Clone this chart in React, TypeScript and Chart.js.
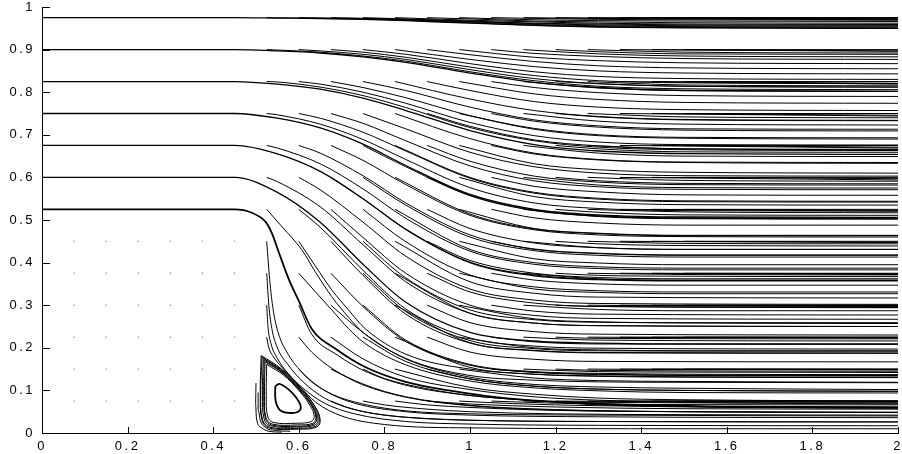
import React, { useEffect, useRef } from "react";
import { Chart, registerables } from "chart.js";

Chart.register(...registerables);

// ---- axes ----
const X_TICKS = [0, 0.2, 0.4, 0.6, 0.8, 1, 1.2, 1.4, 1.6, 1.8, 2];
const X_TICK_LABELS = ["0", "0.2", "0.4", "0.6", "0.8", "1", "1.2", "1.4", "1.6", "1.8", "2"];
const Y_TICKS = [0, 0.1, 0.2, 0.3, 0.4, 0.5, 0.6, 0.7, 0.8, 0.9, 1];
const Y_TICK_LABELS = ["0", "0.1", "0.2", "0.3", "0.4", "0.5", "0.6", "0.7", "0.8", "0.9", "1"];

// ---- grid points inside the step (zero velocity) ----
const STEP_GRID_X = [0.075, 0.15, 0.225, 0.3, 0.375, 0.45];
const STEP_GRID_Y = [0.075, 0.15, 0.225, 0.3, 0.375, 0.45];

// ---- streamlines, each as x,y pairs ----
const INLET_LINES = [
  [0, 0.975, 0.45, 0.975, 0.55, 0.974, 0.65, 0.973, 0.75, 0.971, 0.85, 0.968, 1.0, 0.962, 1.15, 0.957, 1.3, 0.953, 1.5, 0.951, 2, 0.95],
  [0, 0.9, 0.45, 0.9, 0.55, 0.897, 0.65, 0.892, 0.75, 0.883, 0.85, 0.87, 1.0, 0.845, 1.15, 0.823, 1.3, 0.811, 1.5, 0.804, 2, 0.802],
  [0, 0.825, 0.45, 0.825, 0.55, 0.819, 0.65, 0.807, 0.75, 0.786, 0.85, 0.757, 1.0, 0.71, 1.15, 0.677, 1.3, 0.662, 1.5, 0.656, 2, 0.654],
  [0, 0.75, 0.45, 0.75, 0.55, 0.739, 0.65, 0.716, 0.75, 0.678, 0.85, 0.628, 1.0, 0.56, 1.15, 0.525, 1.3, 0.512, 1.5, 0.507, 2, 0.506],
  [0, 0.675, 0.45, 0.675, 0.55, 0.655, 0.65, 0.614, 0.75, 0.55, 0.85, 0.478, 1.0, 0.4, 1.15, 0.369, 1.3, 0.36, 1.5, 0.357, 2, 0.357],
  [0, 0.6, 0.45, 0.6, 0.55, 0.565, 0.65, 0.495, 0.75, 0.396, 0.85, 0.307, 1.0, 0.236, 1.15, 0.216, 1.3, 0.211, 1.5, 0.209, 2, 0.209],
  [0, 0.525, 0.45, 0.525, 0.49, 0.517, 0.523, 0.495, 0.537, 0.469, 0.553, 0.425, 0.577, 0.36, 0.6, 0.31, 0.63, 0.245, 0.69, 0.195, 0.755, 0.155, 0.85, 0.12, 0.95, 0.1, 1.1, 0.08, 1.3, 0.069, 1.6, 0.062, 2, 0.06],
];

const COL_0525 = [
  [0.525, 0.525, 0.561, 0.484, 0.607, 0.43, 0.64, 0.376, 0.677, 0.32, 0.716, 0.272, 0.75, 0.236, 0.85, 0.175, 1.0, 0.135, 1.15, 0.124, 1.3, 0.12, 1.5, 0.119, 2, 0.118],
  [0.525, 0.6, 0.55, 0.59, 0.65, 0.531, 0.75, 0.442, 0.85, 0.355, 1.0, 0.281, 1.15, 0.258, 1.3, 0.252, 2, 0.25],
  [0.525, 0.675, 0.55, 0.669, 0.65, 0.632, 0.75, 0.573, 0.85, 0.504, 1.0, 0.427, 1.15, 0.396, 1.3, 0.386, 1.5, 0.383, 2, 0.383],
  [0.525, 0.75, 0.55, 0.747, 0.65, 0.725, 0.75, 0.689, 0.85, 0.642, 1.0, 0.576, 1.15, 0.54, 1.3, 0.527, 1.5, 0.522, 2, 0.521],
  [0.525, 0.825, 0.55, 0.824, 0.65, 0.812, 0.75, 0.792, 0.85, 0.764, 1.0, 0.717, 1.15, 0.686, 1.3, 0.671, 1.5, 0.665, 2, 0.663],
  [0.525, 0.9, 0.55, 0.899, 0.65, 0.894, 0.75, 0.885, 0.85, 0.873, 1.0, 0.848, 1.15, 0.827, 1.3, 0.814, 1.5, 0.808, 2, 0.806],
  [0.525, 0.975, 0.65, 0.973, 0.75, 0.972, 0.85, 0.969, 1.0, 0.963, 1.15, 0.957, 1.3, 0.954, 1.5, 0.952, 2, 0.951],
];

const COL_0600 = [
  [0.6, 0.375, 0.64, 0.33, 0.677, 0.289, 0.716, 0.245, 0.755, 0.21, 0.85, 0.16, 1.0, 0.122, 1.15, 0.106, 1.3, 0.099, 1.5, 0.095, 2, 0.094],
  [0.6, 0.45, 0.64, 0.39, 0.677, 0.336, 0.716, 0.289, 0.755, 0.245, 0.85, 0.185, 1.0, 0.15, 1.15, 0.138, 1.3, 0.134, 1.5, 0.132, 2, 0.131],
  [0.6, 0.525, 0.65, 0.483, 0.75, 0.382, 0.85, 0.291, 1.0, 0.223, 1.15, 0.204, 1.3, 0.199, 2, 0.197],
  [0.6, 0.6, 0.65, 0.571, 0.75, 0.495, 0.85, 0.415, 1.0, 0.338, 1.15, 0.312, 1.3, 0.304, 2, 0.302],
  [0.6, 0.675, 0.65, 0.657, 0.75, 0.604, 0.85, 0.54, 1.0, 0.465, 1.15, 0.432, 1.3, 0.422, 1.5, 0.418, 2, 0.418],
  [0.6, 0.75, 0.65, 0.739, 0.75, 0.706, 0.85, 0.662, 1.0, 0.598, 1.15, 0.563, 1.3, 0.549, 1.5, 0.543, 2, 0.542],
  [0.6, 0.825, 0.65, 0.819, 0.75, 0.8, 0.85, 0.774, 1.0, 0.729, 1.15, 0.698, 1.3, 0.683, 1.5, 0.677, 2, 0.676],
  [0.6, 0.9, 0.65, 0.897, 0.75, 0.889, 0.85, 0.877, 1.0, 0.853, 1.15, 0.832, 1.3, 0.82, 1.5, 0.814, 2, 0.812],
  [0.6, 0.975, 0.75, 0.973, 0.85, 0.97, 1.0, 0.965, 1.15, 0.959, 1.3, 0.956, 1.5, 0.954, 2, 0.953],
];

const COL_0675 = [
  [0.675, 0.225, 0.75, 0.174, 0.85, 0.131, 1.0, 0.102, 1.15, 0.085, 1.3, 0.077, 1.5, 0.072, 2, 0.068],
  [0.675, 0.3, 0.75, 0.236, 0.85, 0.174, 1.0, 0.131, 1.15, 0.114, 1.3, 0.108, 1.5, 0.105, 2, 0.102],
  [0.675, 0.375, 0.75, 0.297, 0.85, 0.215, 1.0, 0.159, 1.15, 0.143, 1.3, 0.138, 1.5, 0.136, 2, 0.135],
  [0.675, 0.45, 0.75, 0.37, 0.85, 0.279, 1.0, 0.211, 1.15, 0.193, 1.3, 0.188, 2, 0.187],
  [0.675, 0.525, 0.75, 0.459, 0.85, 0.375, 1.0, 0.3, 1.15, 0.276, 1.3, 0.269, 2, 0.267],
  [0.675, 0.6, 0.75, 0.55, 0.85, 0.478, 1.0, 0.401, 1.15, 0.371, 1.3, 0.361, 1.5, 0.358, 2, 0.358],
  [0.675, 0.675, 0.75, 0.64, 0.85, 0.583, 1.0, 0.511, 1.15, 0.477, 1.3, 0.465, 1.5, 0.461, 2, 0.46],
  [0.675, 0.75, 0.75, 0.727, 0.85, 0.686, 1.0, 0.627, 1.15, 0.592, 1.3, 0.578, 1.5, 0.572, 2, 0.571],
  [0.675, 0.825, 0.75, 0.811, 0.85, 0.787, 1.0, 0.745, 1.15, 0.715, 1.3, 0.7, 1.5, 0.694, 2, 0.693],
  [0.675, 0.9, 0.75, 0.894, 0.85, 0.882, 1.0, 0.859, 1.15, 0.839, 1.3, 0.827, 1.5, 0.822, 2, 0.82],
  [0.675, 0.975, 0.85, 0.971, 1.0, 0.966, 1.15, 0.961, 1.3, 0.958, 1.5, 0.956, 2, 0.955],
];

const COL_0750 = [
  [0.75, 0.225, 0.85, 0.168, 1.0, 0.127, 1.15, 0.11, 1.3, 0.103, 1.5, 0.1, 2, 0.098],
  [0.75, 0.3, 0.85, 0.218, 1.0, 0.161, 1.15, 0.144, 1.3, 0.14, 1.5, 0.138, 2, 0.137],
  [0.75, 0.375, 0.85, 0.285, 1.0, 0.217, 1.15, 0.198, 1.3, 0.193, 2, 0.192],
  [0.75, 0.45, 0.85, 0.364, 1.0, 0.289, 1.15, 0.266, 1.3, 0.26, 2, 0.257],
  [0.75, 0.525, 0.85, 0.449, 1.0, 0.371, 1.15, 0.343, 1.3, 0.334, 1.5, 0.331, 2, 0.331],
  [0.75, 0.6, 0.85, 0.535, 1.0, 0.46, 1.15, 0.428, 1.3, 0.417, 1.5, 0.413, 2, 0.413],
  [0.75, 0.675, 0.85, 0.625, 1.0, 0.557, 1.15, 0.522, 1.3, 0.509, 1.5, 0.504, 2, 0.503],
  [0.75, 0.75, 0.85, 0.714, 1.0, 0.659, 1.15, 0.625, 1.3, 0.61, 1.5, 0.604, 2, 0.603],
  [0.75, 0.825, 0.85, 0.804, 1.0, 0.765, 1.15, 0.735, 1.3, 0.721, 1.5, 0.714, 2, 0.713],
  [0.75, 0.9, 0.85, 0.889, 1.0, 0.867, 1.15, 0.848, 1.3, 0.837, 1.5, 0.832, 2, 0.83],
  [0.75, 0.975, 0.85, 0.972, 1.0, 0.967, 1.15, 0.962, 1.3, 0.96, 1.5, 0.958, 2, 0.957],
];

const COL_0825 = [
  [0.825, 0.15, 1.0, 0.107, 1.15, 0.091, 1.3, 0.082, 1.5, 0.078, 2, 0.075],
  [0.825, 0.225, 1.0, 0.154, 1.15, 0.138, 1.3, 0.133, 1.5, 0.131, 2, 0.13],
  [0.825, 0.3, 1.0, 0.212, 1.15, 0.194, 1.3, 0.189, 2, 0.188],
  [0.825, 0.375, 1.0, 0.281, 1.15, 0.258, 1.3, 0.252, 2, 0.25],
  [0.825, 0.45, 1.0, 0.355, 1.15, 0.328, 1.3, 0.319, 2, 0.317],
  [0.825, 0.525, 1.0, 0.431, 1.15, 0.4, 1.3, 0.39, 1.5, 0.387, 2, 0.387],
  [0.825, 0.6, 1.0, 0.514, 1.15, 0.479, 1.3, 0.468, 1.5, 0.463, 2, 0.463],
  [0.825, 0.675, 1.0, 0.6, 1.15, 0.565, 1.3, 0.551, 1.5, 0.545, 2, 0.544],
  [0.825, 0.75, 1.0, 0.691, 1.15, 0.657, 1.3, 0.642, 1.5, 0.636, 2, 0.635],
  [0.825, 0.825, 1.0, 0.784, 1.15, 0.757, 1.3, 0.743, 1.5, 0.736, 2, 0.734],
  [0.825, 0.9, 1.0, 0.877, 1.15, 0.86, 1.3, 0.85, 1.5, 0.845, 2, 0.843],
  [0.825, 0.975, 1.0, 0.969, 1.15, 0.965, 1.3, 0.962, 1.5, 0.96, 2, 0.959],
];

const COL_0900 = [
  [0.9, 0.075, 1.0, 0.068, 1.2, 0.061, 1.5, 0.057, 2, 0.056],
  [0.9, 0.15, 1.0, 0.127, 1.15, 0.11, 1.3, 0.103, 1.5, 0.1, 2, 0.098],
  [0.9, 0.225, 1.0, 0.19, 1.15, 0.173, 1.3, 0.168, 2, 0.167],
  [0.9, 0.3, 1.0, 0.259, 1.15, 0.238, 1.3, 0.232, 2, 0.23],
  [0.9, 0.375, 1.0, 0.331, 1.15, 0.305, 1.3, 0.297, 2, 0.295],
  [0.9, 0.45, 1.0, 0.405, 1.15, 0.375, 1.3, 0.365, 1.5, 0.362, 2, 0.362],
  [0.9, 0.525, 1.0, 0.48, 1.15, 0.446, 1.3, 0.435, 1.5, 0.431, 2, 0.431],
  [0.9, 0.6, 1.0, 0.558, 1.15, 0.523, 1.3, 0.51, 1.5, 0.505, 2, 0.504],
  [0.9, 0.675, 1.0, 0.638, 1.15, 0.603, 1.3, 0.589, 1.5, 0.583, 2, 0.582],
  [0.9, 0.75, 1.0, 0.72, 1.15, 0.688, 1.3, 0.674, 1.5, 0.667, 2, 0.666],
  [0.9, 0.825, 1.0, 0.804, 1.15, 0.778, 1.3, 0.765, 1.5, 0.759, 2, 0.757],
  [0.9, 0.9, 1.0, 0.888, 1.15, 0.872, 1.3, 0.862, 1.5, 0.857, 2, 0.855],
  [0.9, 0.975, 1.0, 0.972, 1.15, 0.967, 1.3, 0.965, 1.5, 0.963, 2, 0.962],
];

const COL_0975 = [
  [0.975, 0.075, 1.1, 0.069, 1.3, 0.064, 1.6, 0.062, 2, 0.061],
  [0.975, 0.15, 1.15, 0.129, 1.3, 0.123, 1.5, 0.121, 2, 0.119],
  [0.975, 0.225, 1.15, 0.2, 1.3, 0.195, 1.5, 0.193, 2, 0.193],
  [0.975, 0.3, 1.15, 0.268, 1.3, 0.261, 1.5, 0.259, 2, 0.259],
  [0.975, 0.375, 1.15, 0.338, 1.3, 0.33, 1.5, 0.327, 2, 0.327],
  [0.975, 0.45, 1.15, 0.409, 1.3, 0.399, 1.5, 0.395, 2, 0.395],
  [0.975, 0.525, 1.15, 0.48, 1.3, 0.469, 1.5, 0.464, 2, 0.464],
  [0.975, 0.6, 1.15, 0.555, 1.3, 0.542, 1.5, 0.536, 2, 0.535],
  [0.975, 0.675, 1.15, 0.632, 1.3, 0.618, 1.5, 0.612, 2, 0.61],
  [0.975, 0.75, 1.15, 0.713, 1.3, 0.698, 1.5, 0.692, 2, 0.69],
  [0.975, 0.825, 1.15, 0.796, 1.3, 0.783, 1.5, 0.776, 2, 0.774],
  [0.975, 0.9, 1.15, 0.882, 1.3, 0.874, 1.5, 0.869, 2, 0.867],
  [0.975, 0.975, 1.15, 0.97, 1.3, 0.968, 1.5, 0.967, 2, 0.966],
];

const COL_1050 = [
  [1.05, 0.075, 1.2, 0.07, 1.4, 0.067, 2, 0.066],
  [1.05, 0.15, 1.15, 0.142, 1.3, 0.137, 1.5, 0.135, 2, 0.134],
  [1.05, 0.225, 1.15, 0.214, 1.3, 0.209, 2, 0.208],
  [1.05, 0.3, 1.15, 0.286, 1.3, 0.279, 2, 0.277],
  [1.05, 0.375, 1.15, 0.359, 1.3, 0.35, 1.5, 0.347, 2, 0.347],
  [1.05, 0.45, 1.15, 0.431, 1.3, 0.421, 1.5, 0.417, 2, 0.417],
  [1.05, 0.525, 1.15, 0.505, 1.3, 0.493, 1.5, 0.488, 2, 0.488],
  [1.05, 0.6, 1.15, 0.579, 1.3, 0.566, 1.5, 0.559, 2, 0.558],
  [1.05, 0.675, 1.15, 0.655, 1.3, 0.641, 1.5, 0.635, 2, 0.633],
  [1.05, 0.75, 1.15, 0.732, 1.3, 0.718, 1.5, 0.711, 2, 0.709],
  [1.05, 0.825, 1.15, 0.811, 1.3, 0.799, 1.5, 0.792, 2, 0.79],
  [1.05, 0.9, 1.15, 0.891, 1.3, 0.884, 1.5, 0.879, 2, 0.877],
  [1.05, 0.975, 1.3, 0.971, 1.5, 0.97, 2, 0.969],
];

const COL_1125 = [
  [1.125, 0.075, 1.3, 0.072, 2, 0.07],
  [1.125, 0.15, 1.3, 0.144, 1.5, 0.143, 2, 0.142],
  [1.125, 0.225, 1.3, 0.218, 2, 0.216],
  [1.125, 0.3, 1.3, 0.29, 1.5, 0.287, 2, 0.287],
  [1.125, 0.375, 1.3, 0.362, 1.5, 0.359, 2, 0.359],
  [1.125, 0.45, 1.3, 0.435, 1.5, 0.431, 2, 0.431],
  [1.125, 0.525, 1.3, 0.508, 1.5, 0.503, 2, 0.502],
  [1.125, 0.6, 1.3, 0.582, 1.5, 0.576, 2, 0.575],
  [1.125, 0.675, 1.3, 0.657, 1.5, 0.65, 2, 0.649],
  [1.125, 0.75, 1.3, 0.732, 1.5, 0.725, 2, 0.723],
  [1.125, 0.825, 1.3, 0.81, 1.5, 0.804, 2, 0.802],
  [1.125, 0.9, 1.3, 0.89, 1.5, 0.885, 2, 0.883],
  [1.125, 0.975, 1.3, 0.973, 2, 0.97],
];

const COL_1200 = [
  [1.2, 0.075, 1.5, 0.073, 2, 0.072],
  [1.2, 0.15, 1.3, 0.147, 2, 0.145],
  [1.2, 0.225, 1.3, 0.222, 2, 0.221],
  [1.2, 0.3, 1.3, 0.297, 2, 0.294],
  [1.2, 0.375, 1.3, 0.37, 1.5, 0.368, 2, 0.367],
  [1.2, 0.45, 1.3, 0.444, 1.5, 0.44, 2, 0.439],
  [1.2, 0.525, 1.3, 0.518, 1.5, 0.512, 2, 0.511],
  [1.2, 0.6, 1.3, 0.592, 1.5, 0.586, 2, 0.585],
  [1.2, 0.675, 1.3, 0.667, 1.5, 0.66, 2, 0.659],
  [1.2, 0.75, 1.3, 0.742, 1.5, 0.735, 2, 0.733],
  [1.2, 0.825, 1.3, 0.82, 1.5, 0.814, 2, 0.812],
  [1.2, 0.9, 1.3, 0.895, 1.5, 0.89, 2, 0.889],
  [1.2, 0.975, 1.3, 0.974, 2, 0.972],
];

const COL_1275 = [
  [1.275, 0.075, 2, 0.074],
  [1.275, 0.15, 1.5, 0.149, 2, 0.148],
  [1.275, 0.225, 1.5, 0.224, 2, 0.223],
  [1.275, 0.3, 1.5, 0.298, 2, 0.297],
  [1.275, 0.375, 1.5, 0.372, 2, 0.371],
  [1.275, 0.45, 1.5, 0.445, 2, 0.444],
  [1.275, 0.525, 1.5, 0.519, 2, 0.517],
  [1.275, 0.6, 1.5, 0.593, 2, 0.591],
  [1.275, 0.675, 1.5, 0.667, 2, 0.665],
  [1.275, 0.75, 1.5, 0.742, 2, 0.74],
  [1.275, 0.825, 1.5, 0.817, 2, 0.815],
  [1.275, 0.9, 1.5, 0.894, 2, 0.892],
  [1.275, 0.975, 2, 0.972],
];

const COL_1350 = [
  [1.35, 0.075, 2, 0.075], [1.35, 0.15, 2, 0.149], [1.35, 0.225, 2, 0.224], [1.35, 0.3, 2, 0.298],
  [1.35, 0.375, 2, 0.372], [1.35, 0.45, 2, 0.447], [1.35, 0.525, 2, 0.521], [1.35, 0.6, 2, 0.594],
  [1.35, 0.675, 2, 0.669], [1.35, 0.75, 2, 0.744], [1.35, 0.825, 2, 0.819], [1.35, 0.9, 2, 0.896],
  [1.35, 0.975, 2, 0.974],
];

const COL_1425 = [
  [1.425, 0.075, 2, 0.075], [1.425, 0.15, 2, 0.15], [1.425, 0.225, 2, 0.225], [1.425, 0.3, 2, 0.299],
  [1.425, 0.375, 2, 0.374], [1.425, 0.45, 2, 0.448], [1.425, 0.525, 2, 0.523], [1.425, 0.6, 2, 0.597],
  [1.425, 0.675, 2, 0.671], [1.425, 0.75, 2, 0.746], [1.425, 0.825, 2, 0.821], [1.425, 0.9, 2, 0.897],
  [1.425, 0.975, 2, 0.974],
];

const COL_1500 = [
  [1.5, 0.075, 2, 0.075], [1.5, 0.15, 2, 0.15], [1.5, 0.225, 2, 0.225], [1.5, 0.3, 2, 0.3],
  [1.5, 0.375, 2, 0.375], [1.5, 0.45, 2, 0.45], [1.5, 0.525, 2, 0.525], [1.5, 0.6, 2, 0.6],
  [1.5, 0.675, 2, 0.675], [1.5, 0.75, 2, 0.75], [1.5, 0.825, 2, 0.825], [1.5, 0.9, 2, 0.9],
  [1.5, 0.975, 2, 0.975],
];

// lines below the dividing streamline, running around the eddy and along the wall
const WALL_LINES = [
  [0.525, 0.45, 0.532, 0.36, 0.54, 0.29, 0.552, 0.235, 0.575, 0.185, 0.61, 0.14, 0.66, 0.1, 0.73, 0.07, 0.85, 0.05, 1.0, 0.042, 1.3, 0.038, 2, 0.036],
  [0.525, 0.375, 0.53, 0.3, 0.537, 0.245, 0.55, 0.2, 0.575, 0.16, 0.61, 0.12, 0.66, 0.082, 0.73, 0.055, 0.85, 0.037, 1.0, 0.03, 1.3, 0.027, 2, 0.026],
  [0.525, 0.3, 0.528, 0.25, 0.535, 0.21, 0.55, 0.175, 0.575, 0.14, 0.61, 0.105, 0.66, 0.07, 0.73, 0.045, 0.85, 0.027, 1.0, 0.021, 1.3, 0.018, 2, 0.017],
  [0.525, 0.225, 0.53, 0.2, 0.54, 0.18, 0.56, 0.155, 0.6, 0.112, 0.64, 0.072, 0.7, 0.04, 0.8, 0.02, 1.0, 0.012, 1.5, 0.01, 2, 0.01],
  [0.6, 0.3, 0.63, 0.232, 0.69, 0.183, 0.755, 0.145, 0.85, 0.112, 1.0, 0.088, 1.15, 0.076, 1.3, 0.066, 1.6, 0.06, 2, 0.058],
  [0.6, 0.225, 0.63, 0.19, 0.68, 0.15, 0.75, 0.115, 0.85, 0.085, 1.0, 0.065, 1.2, 0.055, 1.5, 0.05, 2, 0.048],
  [0.6, 0.15, 0.63, 0.12, 0.68, 0.09, 0.75, 0.068, 0.85, 0.052, 1.0, 0.045, 1.3, 0.042, 2, 0.04],
  [0.675, 0.15, 0.75, 0.113, 0.85, 0.084, 1.0, 0.064, 1.2, 0.054, 1.5, 0.05, 2, 0.048],
  [0.675, 0.075, 0.72, 0.058, 0.8, 0.042, 0.9, 0.034, 1.0, 0.03, 1.3, 0.027, 2, 0.026],
  [0.75, 0.15, 0.8, 0.128, 0.9, 0.104, 1.0, 0.088, 1.15, 0.076, 1.3, 0.067, 1.6, 0.061, 2, 0.059],
  [0.75, 0.075, 0.8, 0.066, 0.9, 0.056, 1.0, 0.05, 1.2, 0.045, 1.5, 0.043, 2, 0.042],
  [0.825, 0.075, 0.9, 0.066, 1.0, 0.06, 1.2, 0.053, 1.5, 0.05, 2, 0.049],
];

// closed orbits of the corner eddy (outer rim bundle)
const VORTEX_LOOPS = [
  [0.512, 0.182, 0.56, 0.15, 0.605, 0.105, 0.638, 0.062, 0.65, 0.03, 0.642, 0.014, 0.6, 0.009, 0.53, 0.012, 0.514, 0.03, 0.51, 0.09, 0.512, 0.182],
  [0.514, 0.178, 0.561, 0.147, 0.604, 0.104, 0.637, 0.063, 0.648, 0.032, 0.64, 0.016, 0.599, 0.011, 0.531, 0.014, 0.515, 0.032, 0.511, 0.09, 0.514, 0.178],
  [0.517, 0.175, 0.561, 0.145, 0.603, 0.103, 0.634, 0.063, 0.645, 0.033, 0.638, 0.019, 0.599, 0.014, 0.533, 0.017, 0.519, 0.033, 0.515, 0.089, 0.517, 0.175],
  [0.519, 0.171, 0.562, 0.142, 0.602, 0.102, 0.631, 0.064, 0.642, 0.035, 0.635, 0.021, 0.598, 0.016, 0.536, 0.019, 0.522, 0.035, 0.518, 0.089, 0.519, 0.171],
  [0.521, 0.167, 0.563, 0.14, 0.601, 0.101, 0.63, 0.064, 0.64, 0.037, 0.633, 0.023, 0.597, 0.019, 0.538, 0.021, 0.523, 0.037, 0.52, 0.088, 0.521, 0.167],
  [0.525, 0.161, 0.564, 0.136, 0.6, 0.1, 0.626, 0.065, 0.636, 0.04, 0.629, 0.027, 0.596, 0.023, 0.54, 0.025, 0.527, 0.04, 0.524, 0.088, 0.525, 0.161],
];

// inner orbit of the eddy
const VORTEX_CORE = [0.545, 0.11, 0.556, 0.115, 0.584, 0.095, 0.602, 0.07, 0.603, 0.054, 0.585, 0.047, 0.557, 0.053, 0.546, 0.075, 0.545, 0.11];

const VORTEX_ARCS = [
  [0.5, 0.117, 0.499, 0.07, 0.501, 0.035, 0.512, 0.013, 0.53, 0.004, 0.56, 0.002],
  [0.505, 0.095, 0.505, 0.055, 0.51, 0.03, 0.522, 0.013, 0.545, 0.006, 0.58, 0.004],
];

function toPoints(flat: number[]) {
  const pts: { x: number; y: number }[] = [];
  for (let i = 0; i < flat.length; i += 2) pts.push({ x: flat[i], y: flat[i + 1] });
  return pts;
}

function lineSet(flat: number[], loop: boolean, width = 1) {
  return {
    data: toPoints(flat),
    showLine: true,
    borderColor: "#000",
    borderWidth: width,
    pointRadius: 0,
    fill: false,
    tension: 0.4,
    cubicInterpolationMode: loop ? "default" : "monotone",
  };
}

const FONT = { family: "'Liberation Sans', Arial, sans-serif", size: 13 };
const SPACING = "2.5px";

const innerTicks = {
  id: "innerTicks",
  beforeLayout(chart: any) {
    chart.ctx.letterSpacing = SPACING;
  },
  beforeDraw(chart: any) {
    chart.ctx.letterSpacing = SPACING;
  },
  afterDraw(chart: any) {
    const ctx = chart.ctx;
    const { left, bottom } = chart.chartArea;
    const xs = chart.scales.x;
    const ys = chart.scales.y;
    ctx.save();
    ctx.strokeStyle = "#000";
    ctx.lineWidth = 1;
    ctx.beginPath();
    X_TICKS.forEach((v) => {
      const px = Math.round(xs.getPixelForValue(v)) + 0.5;
      ctx.moveTo(px, bottom);
      ctx.lineTo(px, bottom - 6);
    });
    Y_TICKS.forEach((v) => {
      const py = Math.round(ys.getPixelForValue(v)) + 0.5;
      ctx.moveTo(left, py);
      ctx.lineTo(left + 8, py);
    });
    ctx.stroke();
    ctx.restore();
  },
};

export default function App() {
  const ref = useRef<HTMLCanvasElement | null>(null);

  useEffect(() => {
    if (!ref.current) return;
    const datasets: any[] = [];
    const dots: { x: number; y: number }[] = [];
    STEP_GRID_X.forEach((x) => STEP_GRID_Y.forEach((y) => dots.push({ x, y })));
    datasets.push({
      data: dots,
      showLine: false,
      pointRadius: 0.9,
      pointBorderWidth: 0,
      pointBackgroundColor: "#b0b0b0",
    });
    INLET_LINES.forEach((l, i) => datasets.push(lineSet(l, false, i === INLET_LINES.length - 1 ? 1.8 : 1.3)));
    const groups = [
      COL_0525, COL_0600, COL_0675, COL_0750, COL_0825, COL_0900, COL_0975,
      COL_1050, COL_1125, COL_1200, COL_1275, COL_1350, COL_1425, COL_1500, WALL_LINES, VORTEX_ARCS,
    ];
    groups.forEach((g) => g.forEach((l) => datasets.push(lineSet(l, false))));
    VORTEX_LOOPS.forEach((l) => datasets.push(lineSet(l, true)));
    datasets.push(lineSet(VORTEX_CORE, true, 1.8));

    const chart = new Chart(ref.current, {
      type: "scatter",
      data: { datasets },
      plugins: [innerTicks],
      options: {
        animation: false,
        responsive: false,
        devicePixelRatio: 1,
        events: [],
        layout: { padding: { top: 7, right: 0, left: 0, bottom: 0 } },
        plugins: { legend: { display: false }, tooltip: { enabled: false } },
        scales: {
          x: {
            type: "linear",
            min: 0,
            max: 2,
            afterBuildTicks: (s: any) => {
              s.ticks = X_TICKS.map((v) => ({ value: v }));
            },
            afterFit: (s: any) => {
              s.height = 21;
              s.paddingLeft = 0;
              s.paddingRight = 0;
            },
            ticks: {
              autoSkip: false,
              maxRotation: 0,
              padding: -2,
              color: "#000",
              font: FONT,
              callback: (v: any) => {
                const i = X_TICKS.findIndex((t) => Math.abs(t - v) < 1e-6);
                return i >= 0 ? X_TICK_LABELS[i] : "";
              },
            },
            grid: { display: false },
            border: { display: true, color: "#000", width: 1 },
          },
          y: {
            type: "linear",
            min: 0,
            max: 1,
            afterBuildTicks: (s: any) => {
              s.ticks = Y_TICKS.map((v) => ({ value: v }));
            },
            afterFit: (s: any) => {
              s.width = 42;
              s.paddingTop = 0;
              s.paddingBottom = 0;
            },
            ticks: {
              autoSkip: false,
              padding: -1,
              color: "#000",
              font: FONT,
              callback: (v: any) => {
                const i = Y_TICKS.findIndex((t) => Math.abs(t - v) < 1e-6);
                return i >= 0 ? Y_TICK_LABELS[i] : "";
              },
            },
            grid: { display: false },
            border: { display: true, color: "#000", width: 1 },
          },
        },
      } as any,
    });
    return () => chart.destroy();
  }, []);

  return (
    <div style={{ position: "fixed", left: 0, top: 0, width: 902, height: 454, background: "#fff" }}>
      <canvas ref={ref} width={902} height={454} style={{ display: "block", width: 902, height: 454 }} />
    </div>
  );
}
